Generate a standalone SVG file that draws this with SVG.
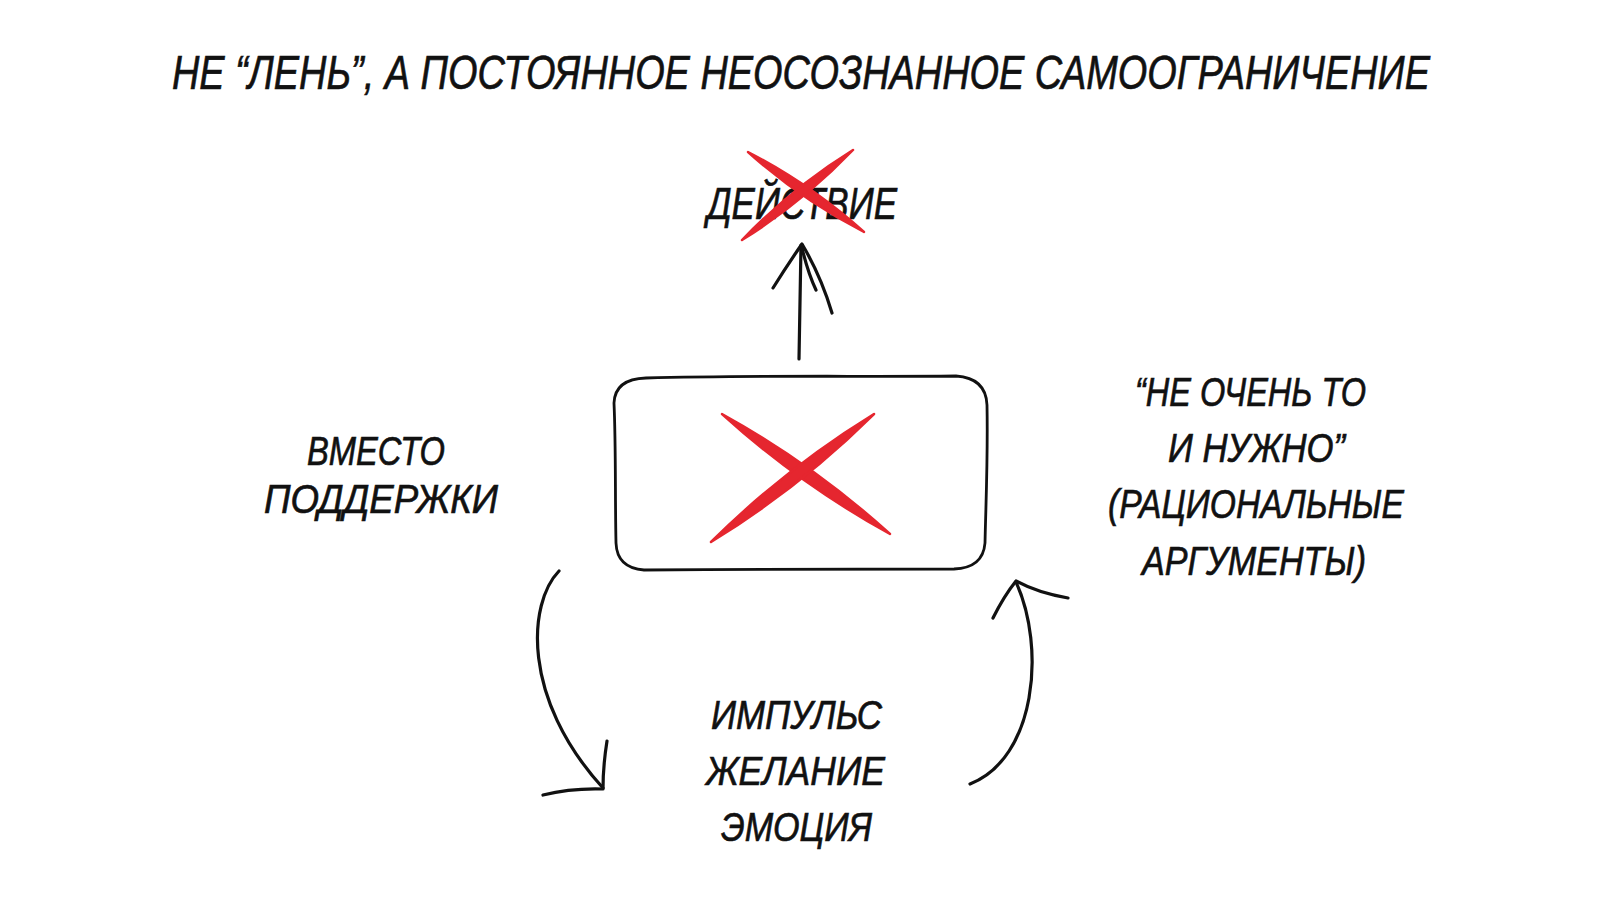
<svg xmlns="http://www.w3.org/2000/svg" width="1600" height="900" viewBox="0 0 1600 900">
  <style>
    .t { font-family: "Liberation Sans", "Noto Sans", sans-serif; font-style: italic; fill: #111; stroke: #111; stroke-width: 0.7; }
    .title { font-size: 48px; }
    .lbl { font-size: 41px; }
    .ink { fill: none; stroke: #111; stroke-width: 3.2; stroke-linecap: round; stroke-linejoin: round; }
    .box { fill: #fff; stroke: #111; stroke-width: 2.8; stroke-linejoin: round; }
    .red { fill: #e5262f; stroke: #e5262f; stroke-width: 2.5; stroke-linejoin: round; }
  </style>
  <rect width="1600" height="900" fill="#fff"/>

  <g transform="translate(-4,-2)">
  <g id="title">
    <text class="t title" x="176" y="91" textLength="1258" lengthAdjust="spacingAndGlyphs">НЕ “ЛЕНЬ”, А ПОСТОЯННОЕ НЕОСОЗНАННОЕ САМООГРАНИЧЕНИЕ</text>
  </g>

  <g id="action">
    <text class="t" style="font-size:45px" x="711" y="221" textLength="190" lengthAdjust="spacingAndGlyphs">ДЕЙСТВИЕ</text>
    <path class="red" d="M752,154 Q804.9,201.4 868,234 Q815.1,186.6 752,154 Z"/>
    <path class="red" d="M857,152 Q795.8,190 746,242 Q807.2,204 857,152 Z"/>
  </g>

  <g id="box">
    <path class="box" d="M650,380 C760,377 870,379 960,378 Q990,380 991,407 C992,460 990,500 989,545 Q987,570 958,571 C850,572 750,571 648,572 Q621,570 620,545 C619,500 620,450 618,405 Q619,381 650,380 Z"/>
    <path class="red" d="M726,416 Q803,485.8 894,536 Q817,466.2 726,416 Z"/>
    <path class="red" d="M878,416 Q789.1,470.6 715,544 Q803.9,489.4 878,416 Z"/>
  </g>

  <g id="label-left">
    <text class="t lbl" x="311" y="467" textLength="138" lengthAdjust="spacingAndGlyphs">ВМЕСТО</text>
    <text class="t lbl" x="268" y="515" textLength="234" lengthAdjust="spacingAndGlyphs">ПОДДЕРЖКИ</text>
  </g>

  <g id="label-right">
    <text class="t lbl" x="1139" y="408" textLength="231" lengthAdjust="spacingAndGlyphs">“НЕ ОЧЕНЬ ТО</text>
    <text class="t lbl" x="1172" y="464" textLength="177" lengthAdjust="spacingAndGlyphs">И НУЖНО”</text>
    <text class="t lbl" x="1112" y="520" textLength="296" lengthAdjust="spacingAndGlyphs">(РАЦИОНАЛЬНЫЕ</text>
    <text class="t lbl" x="1146" y="577" textLength="224" lengthAdjust="spacingAndGlyphs">АРГУМЕНТЫ)</text>
  </g>

  <g id="label-bottom">
    <text class="t lbl" x="715" y="731" textLength="171" lengthAdjust="spacingAndGlyphs">ИМПУЛЬС</text>
    <text class="t lbl" x="710" y="787" textLength="179" lengthAdjust="spacingAndGlyphs">ЖЕЛАНИЕ</text>
    <text class="t lbl" x="725" y="843" textLength="151" lengthAdjust="spacingAndGlyphs">ЭМОЦИЯ</text>
  </g>

  <g id="connectors">
    <path class="ink" d="M803,361 L805,247"/>
    <path class="ink" d="M777,290 Q792,266 806,246 Q825,278 836,315"/>
    <path class="ink" d="M806,250 Q812,275 820,292"/>
    <path class="ink" d="M563,573 C532,605 525,700 607,790"/>
    <path class="ink" d="M611,743 Q607,768 607,791 Q575,790 547,797"/>
    <path class="ink" d="M974,786 C1040,760 1050,650 1020,584"/>
    <path class="ink" d="M997,620 Q1008,598 1020,583 Q1042,595 1072,600"/>
  </g>
  </g>
</svg>
